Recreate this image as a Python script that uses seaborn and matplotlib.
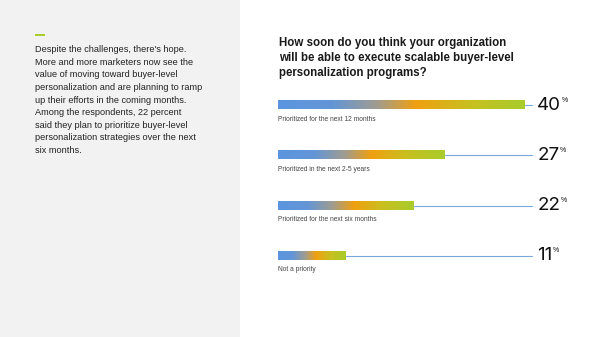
import numpy as np
import matplotlib
matplotlib.use('Agg')
import matplotlib.pyplot as plt
from matplotlib.colors import LinearSegmentedColormap
from matplotlib.patches import Rectangle
import seaborn as sns

# data
categories = ['Prioritized for the next 12 months', 'Prioritized in the next 2-5 years',
              'Prioritized for the next six months', 'Not a priority']
values = [40, 27, 22, 11]

sns.set_style('white')
plt.rcParams['font.family'] = ['Liberation Sans', 'DejaVu Sans']

fig = plt.figure(figsize=(6, 3.37), dpi=100)
fig.patch.set_facecolor('white')
# gray side panel
fig.patches.append(Rectangle((0, 0), 240 / 600, 1, transform=fig.transFigure,
                             facecolor='#f2f2f2', edgecolor='none', zorder=0))
fig.patches.append(Rectangle((35 / 600, 1 - 36 / 337), 10 / 600, 2 / 337, transform=fig.transFigure,
                             facecolor='#a8cc2c', edgecolor='none', zorder=1))

side_text = ("Despite the challenges, there's hope.\n"
             "More and more marketers now see the\n"
             "value of moving toward buyer-level\n"
             "personalization and are planning to ramp\n"
             "up their efforts in the coming months.\n"
             "Among the respondents, 22 percent\n"
             "said they plan to prioritize buyer-level\n"
             "personalization strategies over the next\n"
             "six months.")
fig.text(35 / 600, 1 - 45 / 337, side_text, fontsize=6.6, color='#222222',
         va='top', ha='left', linespacing=1.52)

fig.text(279 / 600, 1 - 37 / 337,
         "How soon do you think your organization\n"
         "will be able to execute scalable buyer-level\n"
         "personalization programs?",
         fontsize=8.3, fontweight='bold', color='#1a1a1a', va='top', ha='left',
         linespacing=1.36)

ax = fig.add_axes([278 / 600, (337 - 281) / 337, 320 / 600, 201 / 337])
sns.barplot(x=values, y=categories, orient='h', width=0.16, ax=ax,
            color='white', edgecolor='none')

cmap = LinearSegmentedColormap.from_list('grad', [
    (0.0, '#5b95e0'), (0.22, '#6496d6'), (0.4, '#a09c90'),
    (0.56, '#f0a010'), (0.78, '#c8c020'), (1.0, '#a8cc2c')])
grad = np.linspace(0, 1, 256).reshape(1, -1)

line_end = 41.1
for i, p in enumerate(ax.patches):
    w = p.get_width()
    y0 = p.get_y()
    h = p.get_height()
    ax.imshow(grad, cmap=cmap, aspect='auto', extent=(0, w, y0 + h, y0), zorder=2)
    ax.plot([w, line_end], [i, i], color='#7aa8dc', lw=0.8, zorder=1)
    ax.text(0, i + 0.28, categories[i], fontsize=4.8, color='#444444', va='center', ha='left')
    t = ax.text(42.0, i, str(values[i]), fontsize=13.5, color='#111111', va='center', ha='left',
                family=['Inter', 'DejaVu Sans'])
    ax.annotate('%', xy=(1, 0.8), xycoords=t, xytext=(0.0, 0), textcoords='offset points',
                fontsize=5, color='#111111', va='center', ha='left')

ax.set_xlim(0, 320 / 6.175)
ax.set_ylim(3.5, -0.5)
ax.set_axis_off()

fig.savefig('out.png', dpi=100)
